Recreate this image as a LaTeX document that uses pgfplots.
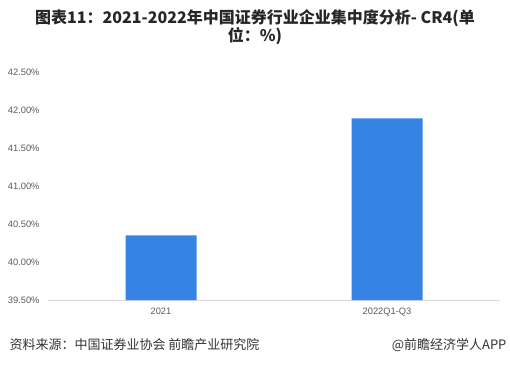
\documentclass[border=0pt]{standalone}
\usepackage{pgfplots}
\pgfplotsset{compat=1.18}
\usepackage{fontspec}
\setmainfont{Noto Sans CJK SC}
\newfontfamily\latinfont{Liberation Sans}
\definecolor{barblue}{RGB}{53,132,228}
\definecolor{ticktxt}{RGB}{89,89,89}
\definecolor{axisgray}{RGB}{217,217,217}
\begin{document}
\begin{tikzpicture}[x=1pt,y=1pt]
\useasboundingbox (0,0) rectangle (510,365);
\begin{axis}[
  at={(48pt,65pt)}, anchor=south west,
  scale only axis, width=452pt, height=228pt,
  xmin=-0.5, xmax=1.5, ymin=39.5, ymax=42.5,
  ytick={39.5,40,40.5,41,41.5,42,42.5},
  xtick={0,1}, xticklabels={2021,2022Q1-Q3},
  ybar, bar width=71pt, bar shift=0pt,
  axis lines*=left,
  y axis line style={draw=none},
  x axis line style={draw=axisgray, line width=0.8pt},
  major tick length=0pt,
  yticklabel={\pgfmathprintnumber{\tick}\%},
  /pgf/number format/.cd, fixed, fixed zerofill, precision=2, assume math mode=true,
  /pgfplots/.cd,
  yticklabel style={font=\latinfont\fontsize{9.3}{11}\selectfont, text=ticktxt, xshift=-5pt},
  xticklabel style={font=\latinfont\fontsize{9.3}{11}\selectfont, text=ticktxt, yshift=-4pt},
  clip=false,
]
\addplot[fill=barblue, draw=none] coordinates {(0,40.35) (1,41.89)};
\end{axis}
\node[font=\fontsize{16}{19}\selectfont\bfseries, text=black!85, align=center] at (255,338)
  {图表11：2021-2022年中国证券行业企业集中度分析- CR4(单\\[-1pt]位：\%)};
\node[anchor=west, font=\fontsize{13}{15}\selectfont, text=black!80] at (6,20) {资料来源：中国证券业协会 前瞻产业研究院};
\node[anchor=east, font=\fontsize{13}{15}\selectfont, text=black!80] at (510,20) {@前瞻经济学人APP};
\end{tikzpicture}
\end{document}
